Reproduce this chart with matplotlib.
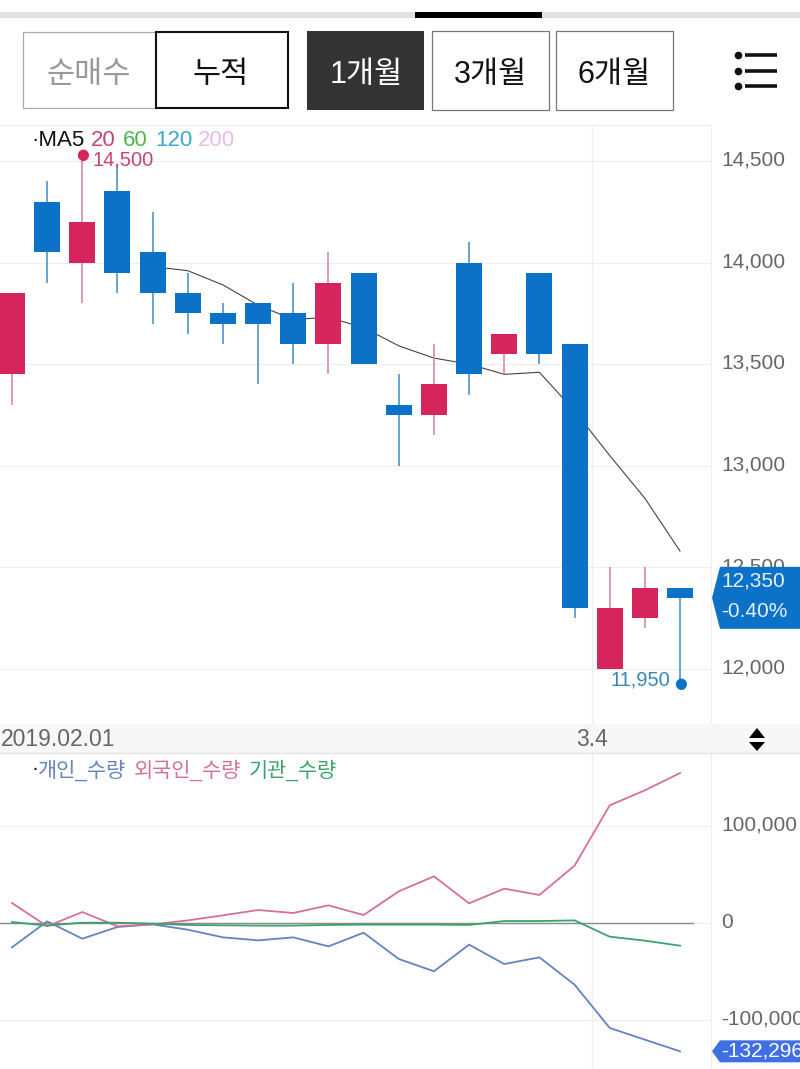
import numpy as np
import matplotlib
matplotlib.use('Agg')
import matplotlib.pyplot as plt
from matplotlib.patches import Rectangle, Polygon
from matplotlib.ticker import FuncFormatter
from matplotlib.transforms import ScaledTranslation

plt.rcParams['font.family'] = ['Liberation Sans', 'Noto Sans CJK KR', 'DejaVu Sans']

# candles, oldest first
opens = [13450, 14300, 14000, 14350, 14050, 13850, 13750, 13800, 13750, 13600,
         13950, 13300, 13250, 14000, 13550, 13950, 13600, 12000, 12250, 12400]
closes = [13850, 14050, 14200, 13950, 13850, 13750, 13700, 13700, 13600, 13900,
          13500, 13250, 13400, 13450, 13650, 13550, 12300, 12300, 12400, 12350]
highs = [13850, 14400, 14500, 14480, 14250, 13950, 13800, 13800, 13900, 14050,
         13950, 13450, 13600, 14100, 13650, 13950, 13600, 12500, 12500, 12400]
lows = [13300, 13900, 13800, 13850, 13700, 13650, 13600, 13400, 13500, 13450,
        13500, 13000, 13150, 13350, 13450, 13500, 12250, 12000, 12200, 11950]
ma5_idx = list(range(4, 20))
ma5 = [13980, 13960, 13890, 13790, 13720, 13730, 13680, 13590,
       13530, 13500, 13450, 13460, 13270, 13050, 12840, 12580]

# investor net buying, cumulative
individual = [-25100, 1700, -16200, -4100, -1400, -6900, -14800, -17900, -14800, -24100,
              -10000, -37100, -49800, -22300, -42300, -35400, -63600, -108200, -120300, -132296]
foreign = [20600, -3400, 11300, -3400, -1400, 2700, 7900, 13400, 10300, 18200,
           8200, 32600, 48100, 20300, 35400, 28900, 59100, 121300, 136800, 154600]
institution = [1000, -2700, 300, 300, -700, -2000, -2400, -2700, -2700, -2000,
               -1700, -1700, -1700, -2000, 2000, 2000, 2700, -14100, -18200, -23400]

price_ticks = [12000, 12500, 13000, 13500, 14000, 14500]
volume_ticks = [-100000, 0, 100000]
month_tick = 16.5

RED = '#d6255c'
BLUE = '#0b72c8'
RED_WICK = '#d98aa3'
BLUE_WICK = '#4f94c4'
GRID = '#eeeeee'
LABEL = '#666666'

W, H = 800, 1069
fig = plt.figure(figsize=(W / 100, H / 100), dpi=100)


def px_axes(x0, y0, x1, y1, **kw):
    # axes placed by pixel box, y counted from the top
    return fig.add_axes([x0 / W, 1 - y1 / H, (x1 - x0) / W, (y1 - y0) / H], **kw)


step = 35.16
x_lim = (-12 / step, (711 - 12) / step)

# --- price panel ---
ax = px_axes(0, 125, 711, 724)
ax.set_xlim(x_lim)
ax.set_ylim(11729, 14677)
ax.plot(ma5_idx, ma5, color='#444444', lw=0.8, zorder=1.5)
for i in range(len(opens)):
    up = closes[i] >= opens[i]
    ax.vlines(i, lows[i], highs[i], color=RED_WICK if up else BLUE_WICK, lw=1.2, zorder=2)
    ax.bar(i, abs(closes[i] - opens[i]), bottom=min(opens[i], closes[i]), width=0.74,
           color=RED if up else BLUE, zorder=3)

# high / low pins
hi = int(np.argmax(highs))
lo = int(np.argmin(lows))
ax.annotate('', xy=(hi, highs[hi]), xytext=(0, 4.5), textcoords='offset points',
            arrowprops=dict(arrowstyle='-', color=RED_WICK, lw=1.2, shrinkA=0, shrinkB=0))
ax.annotate('', xy=(lo, lows[lo]), xytext=(0, -3.5), textcoords='offset points',
            arrowprops=dict(arrowstyle='-', color=BLUE_WICK, lw=1.2, shrinkA=0, shrinkB=0))
ax.annotate(f'{highs[hi]:,}', xy=(hi, highs[hi]), xytext=(7.5, 1), textcoords='offset points',
            color='#c8456f', fontsize=14.5, va='center', ha='left', zorder=6)
ax.annotate('\u25cf', xy=(hi, highs[hi]), xytext=(0, 4.5), textcoords='offset points',
            color=RED, fontsize=10.5, va='center', ha='center', family='DejaVu Sans', zorder=6)
ax.annotate(f'{lows[lo]:,}', xy=(lo, lows[lo]), xytext=(-7, -1), textcoords='offset points',
            color='#3a85b5', fontsize=14.5, va='center', ha='right', zorder=6)
ax.annotate('\u25cf', xy=(lo, lows[lo]), xytext=(0, -3.5), textcoords='offset points',
            color=BLUE, fontsize=10.5, va='center', ha='center', family='DejaVu Sans', zorder=6)

# --- volume panel ---
ax2 = px_axes(0, 753, 711, 1069)
ax2.set_xlim(x_lim)
ax2.set_ylim(-150515, 175258)
x_idx = np.arange(len(individual))
ax2.plot([x_lim[0], 19.37], [0, 0], color='#8a8a8a', lw=1.0, zorder=2)
ax2.plot(x_idx, individual, color='#6483bf', lw=1.3, zorder=3)
ax2.plot(x_idx, foreign, color='#d4709a', lw=1.3, zorder=3)
ax2.plot(x_idx, institution, color='#3aa36c', lw=1.3, zorder=4)

label_shift = ScaledTranslation(0, 2 / 72, fig.dpi_scale_trans)
for a, ticks in ((ax, price_ticks), (ax2, volume_ticks)):
    a.set_yticks(ticks)
    a.yaxis.set_major_formatter(FuncFormatter(lambda v, p: f'{int(v):,}'))
    a.yaxis.tick_right()
    a.tick_params(axis='y', length=0, pad=7.2, labelsize=15, labelcolor=LABEL)
    for lab in a.get_yticklabels():
        lab.set_transform(lab.get_transform() + label_shift)
    a.set_xticks([month_tick])
    a.set_xticklabels([])
    a.tick_params(axis='x', length=0)
    a.grid(True, color=GRID, lw=0.9)
    a.set_axisbelow(True)
    for s in ('top', 'left', 'bottom'):
        a.spines[s].set_visible(False)
    a.spines['right'].set_color(GRID)
ax.spines['top'].set_visible(True)
ax.spines['top'].set_color(GRID)

# --- page furniture, in pixels ---
ui = fig.add_axes([0, 0, 1, 1], zorder=10)
ui.set_xlim(0, W)
ui.set_ylim(H, 0)
ui.axis('off')
ui.patch.set_alpha(0)


def box(x0, y0, x1, y1, fc='none', ec='none', lw=1.0):
    ui.add_patch(Rectangle((x0, y0), x1 - x0, y1 - y0, fc=fc, ec=ec, lw=lw))


def price_y(a, v):
    return ui.transData.inverted().transform(a.transData.transform((0, v)))[1]


box(0, 12, 800, 18, fc='#e2e2e2')
box(415, 12, 542, 18, fc='#000000')

box(23, 32, 156, 108, fc='white', ec='#aaaaaa', lw=0.9)
box(156, 32, 288, 108, fc='white', ec='#111111', lw=1.5)
box(307, 31, 424, 110, fc='#333333')
box(432, 31, 549, 110, fc='white', ec='#777777', lw=0.9)
box(556, 31, 673, 110, fc='white', ec='#777777', lw=0.9)
for cx, s, c in [(89, '순매수', '#999999'), (221, '누적', '#111111'), (366, '1개월', 'white'),
                 (490, '3개월', '#111111'), (614, '6개월', '#111111')]:
    ui.text(cx, 75, s, color=c, fontsize=22, ha='center', va='center')

for y in (55, 70.5, 85.5):
    ui.plot([745, 777], [y, y], color='#111111', lw=2.6, solid_capstyle='butt')
    ui.plot([737.5], [y], 'o', color='#111111', ms=5.5, mew=0)

# legends
ui.text(31, 141, '·MA5', color='#111111', fontsize=16, va='center')
for x, s, c in [(91, '20', '#c2476f'), (123, '60', '#4fb54f'), (155, '120', '#3ba8c9'),
                (198, '200', '#e9bbe9')]:
    ui.text(x, 141, s, color=c, fontsize=16, va='center')
ui.text(31, 769, '·', color='#111111', fontsize=15, va='center')
for x, s, c in [(38, '개인_수량', '#6483bf'), (134, '외국인_수량', '#d4709a'), (249, '기관_수량', '#3aa36c')]:
    ui.text(x, 770, s, color=c, fontsize=15, va='center')

# date strip
box(0, 724, 800, 753, fc='#f7f7f7')
ui.plot([0, 800], [753, 753], color='#e4e4e4', lw=1)
ui.text(1, 739, '2019.02.01', color=LABEL, fontsize=16.5, va='center')
ui.text(592, 739, '3.4', color=LABEL, fontsize=16.5, va='center', ha='center')
ui.add_patch(Polygon([[749, 738], [765, 738], [757, 728]], fc='black', ec='none'))
ui.add_patch(Polygon([[749, 742], [765, 742], [757, 751]], fc='black', ec='none'))

# last value flags
y_last = price_y(ax, closes[-1])
ui.add_patch(Polygon([[712, y_last], [720, y_last - 31], [800, y_last - 31],
                      [800, y_last + 31], [720, y_last + 31]], fc=BLUE, ec='none'))
pct = (closes[-1] - closes[-2]) / closes[-2] * 100
ui.text(721, y_last - 17, f'{closes[-1]:,}', color='#e6f0fa', fontsize=15, va='center')
ui.text(721, y_last + 14, f'{pct:.2f}%', color='#e6f0fa', fontsize=15, va='center')

y_ind = price_y(ax2, individual[-1])
ui.add_patch(Polygon([[712, y_ind], [720, y_ind - 11], [800, y_ind - 11],
                      [800, y_ind + 11], [720, y_ind + 11]], fc='#3f6fe3', ec='none'))
ui.text(721, y_ind, f'{individual[-1]:,}', color='white', fontsize=15, va='center', clip_on=True)

fig.savefig('out.png', dpi=100)
